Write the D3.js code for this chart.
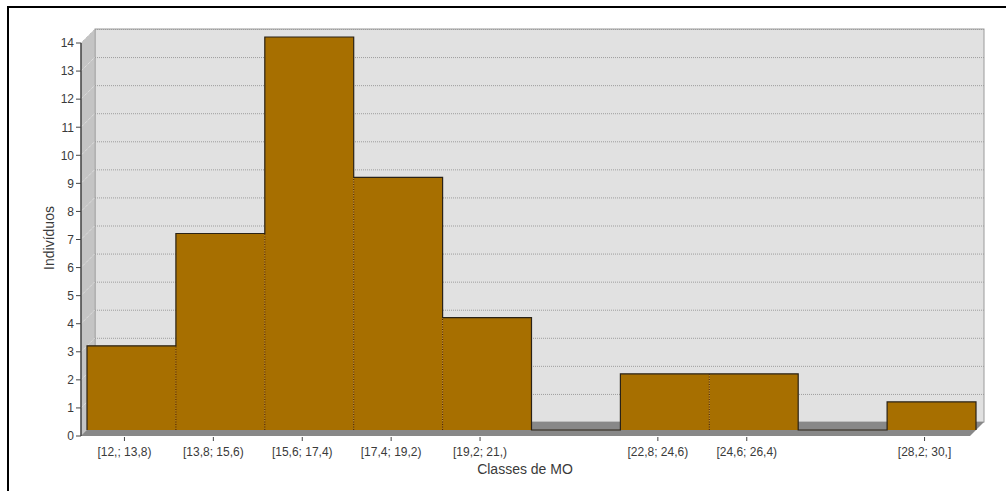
<!DOCTYPE html>
<html>
<head>
<meta charset="utf-8">
<script src="https://cdn.jsdelivr.net/npm/d3@7"></script>
<style>
  html, body { margin: 0; padding: 0; background: #ffffff; }
  svg { display: block; font-family: "Liberation Sans", Arial, sans-serif; }
</style>
</head>
<body>
<svg id="chart" width="1006" height="491"></svg>
<script>
// Histogram of MO classes (counts of individuals per class)
const classes = ["[12,; 13,8)", "[13,8; 15,6)", "[15,6; 17,4)", "[17,4; 19,2)", "[19,2; 21,)",
                 "[21,; 22,8)", "[22,8; 24,6)", "[24,6; 26,4)", "[26,4; 28,2)", "[28,2; 30,]"];
const counts = [3, 7, 14, 9, 4, 0, 2, 2, 0, 1];
// Labels printed under the axis (two classes carry no label)
const tickLabels = ["[12,; 13,8)", "[13,8; 15,6)", "[15,6; 17,4)", "[17,4; 19,2)", "[19,2; 21,)",
                    "", "[22,8; 24,6)", "[24,6; 26,4)", "", "[28,2; 30,]"];
const yTicks = [0, 1, 2, 3, 4, 5, 6, 7, 8, 9, 10, 11, 12, 13, 14];
const xTitle = "Classes de MO";
const yTitle = "Indivíduos";

const svg = d3.select("#chart");

// 3D plot geometry: front plane + depth offset for the back wall
const depth = 14;      // wall depth offset (x right, y up)
const barShift = 6;    // bars sit slightly behind the front plane
const x = d3.scaleBand().domain(d3.range(classes.length)).range([81, 970]).paddingInner(0).paddingOuter(0);
const y = d3.scaleLinear().domain([0, 14]).range([436, 43]);

const x0 = 81, x1 = 970;
const yTop = y(14), yBase = y(0);

// outer frame (top and left edges)
svg.append("path")
  .attr("d", "M8,491 L8,7 L1006,7")
  .attr("fill", "none").attr("stroke", "#000").attr("stroke-width", 2);

// back wall
svg.append("rect")
  .attr("x", x0 + depth).attr("y", yTop - depth)
  .attr("width", x1 - x0).attr("height", yBase - yTop)
  .attr("fill", "#e1e1e1").attr("stroke", "#9a9a9a").attr("stroke-width", 1);

// left wall
svg.append("polygon")
  .attr("points", [[x0, yBase], [x0, yTop], [x0 + depth, yTop - depth], [x0 + depth, yBase - depth]].join(" "))
  .attr("fill", "#c4c4c4").attr("stroke", "#9a9a9a").attr("stroke-width", 0.6);

// floor
svg.append("polygon")
  .attr("points", [[x0, yBase], [x1, yBase], [x1 + depth, yBase - depth], [x0 + depth, yBase - depth]].join(" "))
  .attr("fill", "#888888");

// gridlines on back wall and left wall
const grid = svg.append("g");
yTicks.filter(v => v > 0).forEach(v => {
  grid.append("line")
    .attr("x1", x0 + depth).attr("x2", x1 + depth)
    .attr("y1", y(v) - depth + 0.5).attr("y2", y(v) - depth + 0.5)
    .attr("stroke", "#9d9d9d").attr("stroke-width", 1).attr("stroke-dasharray", "1,1");
  grid.append("line")
    .attr("x1", x0).attr("x2", x0 + depth)
    .attr("y1", y(v)).attr("y2", y(v) - depth)
    .attr("stroke", "#e9e9e9").attr("stroke-width", 1).attr("stroke-dasharray", "1,1");
});

// bars
const bw = x.bandwidth();
const barBase = yBase - barShift;
const bars = svg.append("g");
bars.selectAll("rect").data(counts).join("rect")
  .attr("x", (d, i) => x(i) + barShift)
  .attr("y", d => y(d) - barShift)
  .attr("width", bw)
  .attr("height", d => yBase - y(d))
  .attr("fill", "#a76f00");

// dotted separators between adjacent bars
counts.forEach((d, i) => {
  if (i === 0) return;
  const prev = counts[i - 1];
  if (d > 0 && prev > 0) {
    bars.append("line")
      .attr("x1", x(i) + barShift).attr("x2", x(i) + barShift)
      .attr("y1", barBase).attr("y2", y(Math.min(d, prev)) - barShift)
      .attr("stroke", "#4a1e00").attr("stroke-width", 1).attr("stroke-dasharray", "1,1.5");
  }
});

// solid step outline of the histogram
const pts = [[x(0) + barShift, barBase]];
counts.forEach((d, i) => {
  pts.push([x(i) + barShift, y(d) - barShift]);
  pts.push([x(i) + barShift + bw, y(d) - barShift]);
});
pts.push([x(counts.length - 1) + barShift + bw, barBase]);
bars.append("path")
  .attr("d", d3.line()(pts))
  .attr("fill", "none").attr("stroke", "#2a2216").attr("stroke-width", 1.2);

// y axis
const yAxisG = svg.append("g").attr("transform", `translate(${x0},0)`);
yAxisG.append("line").attr("x1", 0).attr("x2", 0).attr("y1", yTop).attr("y2", yBase)
  .attr("stroke", "#333").attr("stroke-width", 1.3);
yTicks.forEach(v => {
  yAxisG.append("line").attr("x1", -5).attr("x2", 0).attr("y1", y(v)).attr("y2", y(v))
    .attr("stroke", "#444").attr("stroke-width", 1);
  yAxisG.append("text").attr("x", -7).attr("y", y(v)).attr("dy", "0.36em")
    .attr("text-anchor", "end").attr("font-size", 12).attr("fill", "#3a3a3a").text(v);
});

// x axis ticks and labels
const xAxisG = svg.append("g");
tickLabels.forEach((t, i) => {
  if (!t) return;
  const cx = x(i) + bw / 2 - 1;
  xAxisG.append("line").attr("x1", cx).attr("x2", cx).attr("y1", yBase + 1).attr("y2", yBase + 5)
    .attr("stroke", "#444").attr("stroke-width", 1);
  xAxisG.append("text").attr("x", cx).attr("y", yBase + 20)
    .attr("text-anchor", "middle").attr("font-size", 12).attr("fill", "#3a3a3a").text(t);
});

// axis titles
svg.append("text").attr("x", 525).attr("y", 474).attr("text-anchor", "middle")
  .attr("font-size", 14).attr("fill", "#3a3a3a").text(xTitle);
svg.append("text").attr("transform", "translate(54,238) rotate(-90)").attr("text-anchor", "middle")
  .attr("font-size", 14).attr("fill", "#3a3a3a").text(yTitle);
</script>
</body>
</html>
